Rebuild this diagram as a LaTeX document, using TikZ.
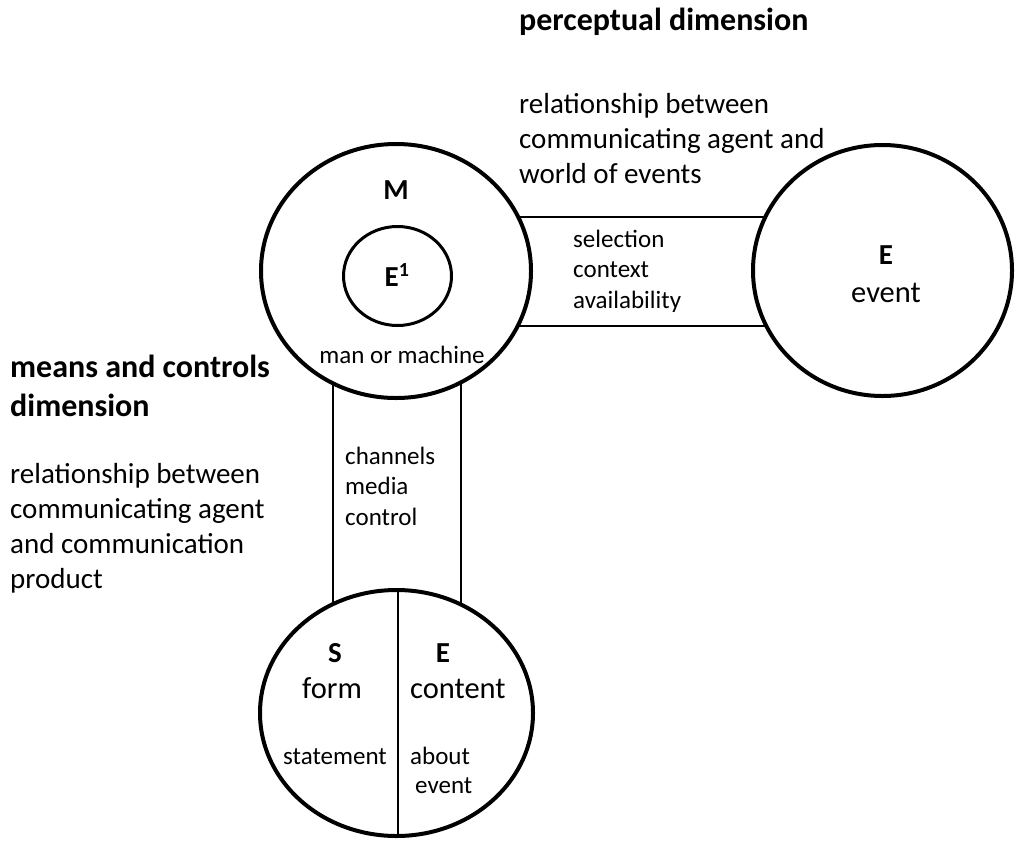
\documentclass[tikz,border=0pt]{standalone}
\usepackage{fontspec}
\setmainfont{Carlito}
\usetikzlibrary{shapes.geometric,backgrounds}

\tikzset{
  ring/.style={ellipse, draw, line width=4pt, fill=white, inner sep=0pt},
  innerring/.style={ellipse, draw, line width=3pt, fill=white, inner sep=0pt},
  bandline/.style={line width=2pt},
  heading/.style={font=\bfseries\fontsize{32}{39}\selectfont, align=left, inner sep=0pt},
  bodytext/.style={font=\fontsize{29}{35}\selectfont, align=left, inner sep=0pt},
  smalltext/.style={font=\fontsize{25}{30.5}\selectfont, align=left, inner sep=0pt},
  letter/.style={font=\bfseries\fontsize{29}{35}\selectfont, inner sep=0pt},
  midtext/.style={font=\fontsize{30.5}{36}\selectfont, inner sep=0pt},
}

\begin{document}
\begin{tikzpicture}[x=1pt, y=-1pt]
\useasboundingbox (0,0) rectangle (1017,841);

% the three agents of the model
\node[ring, minimum width=270pt, minimum height=254pt] (M) at (396,271) {};
\node[ring, minimum width=259pt, minimum height=251pt] (Ev) at (882.5,270.5) {};
\node[ring, minimum width=273pt, minimum height=246pt] (SE) at (396.5,713) {};
\node[innerring, minimum width=108pt, minimum height=99pt] (E1) at (397.5,276) {};

% bands joining the circles (hidden under the white circles)
\begin{scope}[on background layer]
  \draw[bandline] ([yshift=54pt]M.center) -- ([yshift=54pt]M.center -| Ev.center);
  \draw[bandline] ([yshift=-55pt]M.center) -- ([yshift=-55pt]M.center -| Ev.center);
  \draw[bandline] ([xshift=-63pt]M.center) -- ([xshift=-63pt]M.center |- SE.center);
  \draw[bandline] ([xshift=65pt]M.center) -- ([xshift=65pt]M.center |- SE.center);
\end{scope}

% split of the product circle
\draw[bandline] ([xshift=1.5pt]SE.north) -- ([xshift=1.5pt]SE.south);

% labels inside the circles
\node[letter, anchor=base] (lM) at (396,199) {M};
\node[letter, anchor=base] (lE1) at (397,286) {E\textsuperscript{\fontsize{20}{20}\selectfont 1}};
\node[smalltext, anchor=base] (lman) at (402,363) {man or machine};
\node[letter, anchor=base] (lE) at (886,264) {E};
\node[midtext, anchor=base] (levent) at (886,302) {event};
\node[letter, anchor=base] (lS) at (335,662) {S};
\node[midtext, anchor=base] (lform) at (332,698) {form};
\node[letter, anchor=base] (lE2) at (443,662) {E};
\node[midtext, anchor=base west] (lcontent) at (410,698) {content};
\node[smalltext, anchor=base] (lstatement) at (335,764) {statement};
% multi-line nodes: the base anchor sits on the last line
\node[smalltext, anchor=base west] (labout) at (410,793) {about\\[-1.5pt]\hspace*{5pt}event};

% labels inside the bands
\node[smalltext, anchor=base west] (lsel) at (573,308) {selection\\context\\availability};
\node[smalltext, anchor=base west] (lchan) at (345,525) {channels\\media\\control};

% dimension captions
\node[heading, anchor=base west] (hperc) at (519,30) {perceptual dimension};
\node[bodytext, anchor=base west] (tperc) at (519,183) {relationship between\\communicating agent and\\world of events};
\node[heading, anchor=base west] (hmeans) at (10,416) {means and controls\\dimension};
\node[bodytext, anchor=base west] (tmeans) at (10,588) {relationship between\\communicating agent\\and communication\\product};
\end{tikzpicture}
\end{document}
